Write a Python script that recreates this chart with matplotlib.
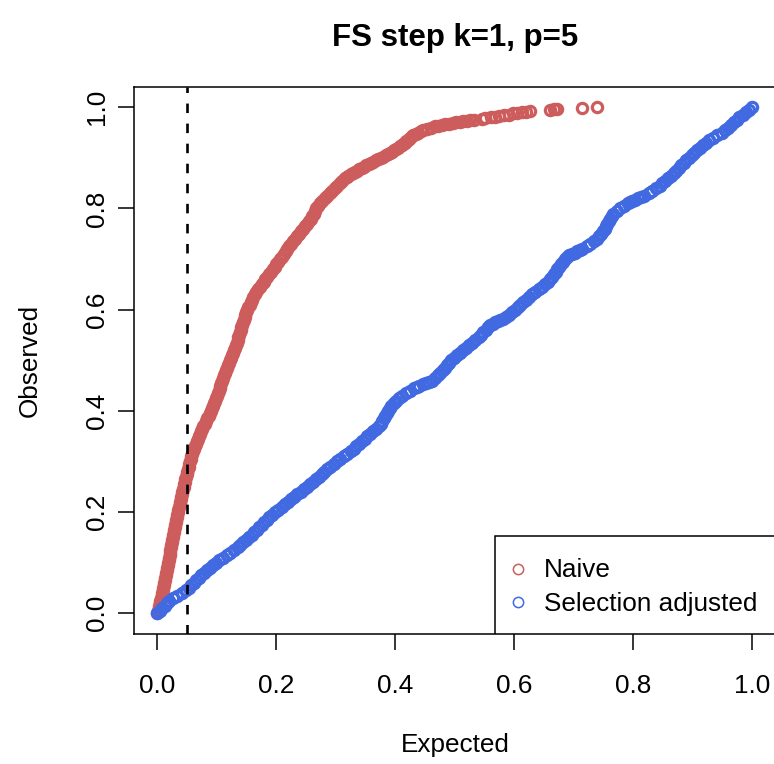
import matplotlib.pyplot as plt
from matplotlib.patches import Rectangle

plt.rcParams['font.family'] = ['Liberation Sans', 'DejaVu Sans']

# values (observed = ECDF level, expected = p-value)
naive_observed = [
    0.000, 0.005, 0.010, 0.015, 0.020, 0.025, 0.030, 0.035, 0.040, 0.045,
    0.050, 0.055, 0.060, 0.065, 0.070, 0.075, 0.080, 0.085, 0.090, 0.095,
    0.100, 0.105, 0.110, 0.115, 0.120, 0.125, 0.130, 0.135, 0.140, 0.145,
    0.150, 0.155, 0.160, 0.165, 0.170, 0.175, 0.180, 0.185, 0.190, 0.195,
    0.200, 0.205, 0.210, 0.215, 0.220, 0.225, 0.230, 0.235, 0.240, 0.245,
    0.250, 0.255, 0.260, 0.265, 0.270, 0.275, 0.280, 0.285, 0.290, 0.295,
    0.300, 0.305, 0.310, 0.315, 0.320, 0.325, 0.330, 0.335, 0.340, 0.345,
    0.350, 0.355, 0.360, 0.365, 0.370, 0.375, 0.380, 0.385, 0.390, 0.395,
    0.400, 0.405, 0.410, 0.415, 0.420, 0.425, 0.430, 0.435, 0.440, 0.445,
    0.450, 0.455, 0.460, 0.465, 0.470, 0.475, 0.480, 0.485, 0.490, 0.495,
    0.500, 0.505, 0.510, 0.515, 0.520, 0.525, 0.530, 0.535, 0.540, 0.545,
    0.550, 0.555, 0.560, 0.565, 0.570, 0.575, 0.580, 0.585, 0.590, 0.595,
    0.600, 0.605, 0.610, 0.615, 0.620, 0.625, 0.630, 0.635, 0.640, 0.645,
    0.650, 0.655, 0.660, 0.665, 0.670, 0.675, 0.680, 0.685, 0.690, 0.695,
    0.700, 0.705, 0.710, 0.715, 0.720, 0.725, 0.730, 0.735, 0.740, 0.745,
    0.750, 0.755, 0.760, 0.765, 0.770, 0.775, 0.780, 0.785, 0.790, 0.795,
    0.800, 0.805, 0.810, 0.815, 0.820, 0.825, 0.830, 0.835, 0.840, 0.845,
    0.850, 0.855, 0.860, 0.865, 0.870, 0.875, 0.880, 0.885, 0.890, 0.895,
    0.900, 0.905, 0.910, 0.915, 0.920, 0.925, 0.930, 0.935, 0.940, 0.945,
    0.950, 0.955, 0.960,
    0.962, 0.963, 0.964, 0.966, 0.967, 0.968, 0.970, 0.971, 0.972, 0.973,
    0.974, 0.975, 0.977, 0.978, 0.980, 0.981, 0.982, 0.984, 0.985, 0.988,
    0.989, 0.990, 0.991, 0.992, 0.995, 0.996, 0.997, 0.999, 1.000,
    # denser readings where the curve turns flat
    0.8625, 0.8675, 0.8725, 0.8775, 0.8825, 0.8875, 0.8925, 0.8975, 0.9025, 0.9075,
    0.9125, 0.9175, 0.9225, 0.9275, 0.9325, 0.9375, 0.9425, 0.9475, 0.9525, 0.9575,
]
naive_expected = [
    0.000, 0.001, 0.002, 0.003, 0.004, 0.005, 0.006, 0.007, 0.008, 0.009,
    0.0095, 0.0105, 0.0115, 0.0124, 0.0132, 0.014, 0.0148, 0.0156, 0.0164, 0.0171,
    0.0179, 0.0187, 0.0195, 0.0203, 0.0211, 0.0218, 0.0226, 0.0234, 0.0242, 0.025,
    0.0257, 0.0265, 0.0274, 0.0282, 0.0291, 0.030, 0.0309, 0.0318, 0.0327, 0.0336,
    0.0344, 0.0353, 0.0362, 0.0371, 0.038, 0.0389, 0.0398, 0.0406, 0.0416, 0.0427,
    0.0438, 0.0448, 0.0459, 0.0469, 0.048, 0.0491, 0.0501, 0.0512, 0.0522, 0.0533,
    0.0544, 0.0556, 0.0571, 0.0586, 0.0601, 0.0616, 0.0632, 0.0647, 0.0662, 0.0677,
    0.0692, 0.0707, 0.0727, 0.0749, 0.0771, 0.0793, 0.0815, 0.0836, 0.0858, 0.088,
    0.0898, 0.0916, 0.0934, 0.0952, 0.097, 0.0985, 0.0999, 0.1014, 0.1028, 0.1043,
    0.1057, 0.1072, 0.1087, 0.1101, 0.1117, 0.1133, 0.115, 0.1167, 0.1183, 0.120,
    0.1217, 0.1233, 0.125, 0.1267, 0.1283, 0.130, 0.1317, 0.1333, 0.1346, 0.1359,
    0.1372, 0.1385, 0.1398, 0.1411, 0.1424, 0.1437, 0.145, 0.1463, 0.1476, 0.149,
    0.1504, 0.1525, 0.1547, 0.1568, 0.1589, 0.161, 0.1632, 0.1659, 0.169, 0.1721,
    0.1753, 0.1784, 0.1815, 0.1846, 0.1878, 0.1908, 0.1939, 0.1969, 0.200, 0.203,
    0.206, 0.2091, 0.2121, 0.2152, 0.2183, 0.2217, 0.225, 0.2283, 0.2317, 0.235,
    0.2383, 0.2415, 0.2447, 0.2479, 0.2511, 0.2543, 0.2575, 0.2604, 0.2626, 0.2648,
    0.267, 0.2691, 0.2725, 0.2767, 0.2808, 0.285, 0.2892, 0.2933, 0.2977, 0.3021,
    0.3065, 0.3109, 0.3153, 0.321, 0.3283, 0.3357, 0.3431, 0.3505, 0.3588, 0.3672,
    0.3756, 0.3834, 0.3906, 0.3979, 0.4051, 0.4109, 0.4157, 0.4204, 0.4252, 0.430,
    0.4385, 0.4469, 0.460,
    0.466, 0.472, 0.478, 0.484, 0.490, 0.496, 0.502, 0.508, 0.514, 0.520,
    0.526, 0.532, 0.545, 0.551, 0.560, 0.567, 0.574, 0.583, 0.590, 0.598,
    0.605, 0.612, 0.619, 0.626, 0.660, 0.666, 0.671, 0.713, 0.738,
    0.3182, 0.3246, 0.332, 0.3394, 0.3468, 0.3547, 0.363, 0.3714, 0.3795, 0.387,
    0.3943, 0.4015, 0.408, 0.4133, 0.418, 0.4228, 0.4276, 0.4343, 0.4427, 0.4535,
]

adjusted_observed = [
    0.000, 0.005, 0.010, 0.015, 0.020, 0.025, 0.030, 0.035, 0.040, 0.045,
    0.050, 0.055, 0.060, 0.065, 0.070, 0.075, 0.080, 0.085, 0.090, 0.095,
    0.100, 0.105, 0.110, 0.115, 0.120, 0.125, 0.130, 0.135, 0.140, 0.145,
    0.150, 0.155, 0.160, 0.165, 0.170, 0.175, 0.180, 0.185, 0.190, 0.195,
    0.200, 0.205, 0.210, 0.215, 0.220, 0.225, 0.230, 0.235, 0.240, 0.245,
    0.250, 0.255, 0.260, 0.265, 0.270, 0.275, 0.280, 0.285, 0.290, 0.295,
    0.300, 0.305, 0.310, 0.315, 0.320, 0.325, 0.330, 0.335, 0.340, 0.345,
    0.350, 0.355, 0.360, 0.365, 0.370, 0.375, 0.380, 0.385, 0.390, 0.395,
    0.400, 0.405, 0.410, 0.415, 0.420, 0.425, 0.430, 0.435, 0.440, 0.445,
    0.450, 0.455, 0.460, 0.465, 0.470, 0.475, 0.480, 0.485, 0.490, 0.495,
    0.500, 0.505, 0.510, 0.515, 0.520, 0.525, 0.530, 0.535, 0.540, 0.545,
    0.550, 0.555, 0.560, 0.565, 0.570, 0.575, 0.580, 0.585, 0.590, 0.595,
    0.600, 0.605, 0.610, 0.615, 0.620, 0.625, 0.630, 0.635, 0.640, 0.645,
    0.650, 0.655, 0.660, 0.665, 0.670, 0.675, 0.680, 0.685, 0.690, 0.695,
    0.700, 0.705, 0.710, 0.715, 0.720, 0.725, 0.730, 0.735, 0.740, 0.745,
    0.750, 0.755, 0.760, 0.765, 0.770, 0.775, 0.780, 0.785, 0.790, 0.795,
    0.800, 0.805, 0.810, 0.815, 0.820, 0.825, 0.830, 0.835, 0.840, 0.845,
    0.850, 0.855, 0.860, 0.865, 0.870, 0.875, 0.880, 0.885, 0.890, 0.895,
    0.900, 0.905, 0.910, 0.915, 0.920, 0.925, 0.930, 0.935, 0.940, 0.945,
    0.950, 0.955, 0.960, 0.965, 0.970, 0.975, 0.980, 0.985, 0.990, 0.995,
    1.000,
    # denser readings on the steeper stretches
    0.4475, 0.4525, 0.4575, 0.5725, 0.5775, 0.5825,
    0.7075, 0.7125, 0.7175, 0.8125, 0.8175, 0.8225,
]
adjusted_expected = [
    0.000, 0.004, 0.008, 0.012, 0.016, 0.020, 0.0266, 0.0336, 0.0406, 0.0476,
    0.0524, 0.0566, 0.0608, 0.0651, 0.0693, 0.0739, 0.0786, 0.0834, 0.0881, 0.0929,
    0.0976, 0.1034, 0.1098, 0.1163, 0.1227, 0.1291, 0.1349, 0.1395, 0.1442, 0.1489,
    0.1535, 0.1582, 0.1627, 0.1669, 0.1712, 0.1754, 0.1797, 0.1839, 0.1882, 0.1931,
    0.1983, 0.2034, 0.2086, 0.2137, 0.2189, 0.224, 0.2296, 0.2351, 0.2406, 0.2461,
    0.2516, 0.2569, 0.2617, 0.2664, 0.2711, 0.2758, 0.2806, 0.2853, 0.290, 0.2959,
    0.3017, 0.3076, 0.3134, 0.3193, 0.3249, 0.3296, 0.3343, 0.3389, 0.3436, 0.3483,
    0.353, 0.3577, 0.3625, 0.3673, 0.3721, 0.3755, 0.378, 0.3805, 0.383, 0.3855,
    0.388, 0.3905, 0.393, 0.3972, 0.4013, 0.4055, 0.4108, 0.4178, 0.4248, 0.4318,
    0.4403, 0.4511, 0.4618, 0.4672, 0.4712, 0.4752, 0.4792, 0.483, 0.4867, 0.4903,
    0.494, 0.498, 0.503, 0.508, 0.513, 0.518, 0.5233, 0.5288, 0.5343, 0.5398,
    0.5442, 0.5479, 0.5516, 0.5553, 0.559, 0.5678, 0.5765, 0.5853, 0.5908, 0.5956,
    0.6004, 0.6052, 0.610, 0.615, 0.620, 0.625, 0.630, 0.6353, 0.6408, 0.6463,
    0.6518, 0.656, 0.6592, 0.6625, 0.6658, 0.669, 0.6723, 0.6754, 0.6786, 0.6817,
    0.6849, 0.688, 0.6968, 0.7055, 0.7143, 0.7212, 0.7276, 0.7341, 0.7393, 0.7424,
    0.7456, 0.7487, 0.7515, 0.7539, 0.7563, 0.7587, 0.7612, 0.7636, 0.766, 0.7721,
    0.7782, 0.7843, 0.7903, 0.798, 0.808, 0.818, 0.8256, 0.8317, 0.8377, 0.8438,
    0.8487, 0.8534, 0.8581, 0.8627, 0.8674, 0.8721, 0.8764, 0.8806, 0.8849, 0.8891,
    0.8934, 0.8976, 0.902, 0.9067, 0.9115, 0.9163, 0.9211, 0.9272, 0.9342, 0.9412,
    0.9482, 0.9539, 0.9587, 0.9636, 0.9684, 0.9732, 0.978, 0.9834, 0.9889, 0.9945,
    1.000,
    0.436, 0.4457, 0.4565, 0.5634, 0.5722, 0.581,
    0.6924, 0.7012, 0.710, 0.794, 0.803, 0.813,
]

ticks = [0.0, 0.2, 0.4, 0.6, 0.8, 1.0]
tick_labels = ['0.0', '0.2', '0.4', '0.6', '0.8', '1.0']
cutoff = 0.05
series_labels = ['Naive', 'Selection adjusted']

red = '#CD5C5C'
blue = '#4169E1'
fs = 18.8
msize = 7.4
medge = 2.3

fig = plt.figure(figsize=(7.74, 7.64), dpi=100)
ax = fig.add_axes([0.1727, 0.1708, 0.8302, 0.7153])

ax.plot(naive_expected, naive_observed, 'o', mfc='none', mec=red, ms=msize, mew=medge)
ax.plot(adjusted_expected, adjusted_observed, 'o', mfc='none', mec=blue, ms=msize, mew=medge)
ax.axvline(cutoff, color='black', lw=1.9, ls=(0, (3.6, 4.0)))

ax.set_xlim(-0.04, 1.04)
ax.set_ylim(-0.04, 1.04)
ax.set_xticks(ticks)
ax.set_xticklabels(tick_labels)
ax.set_yticks(ticks)
ax.set_yticklabels(tick_labels, rotation=90, va='center')
ax.tick_params(axis='both', length=11.2, width=1.1, labelsize=fs, color='black')
ax.tick_params(axis='x', pad=18)
ax.tick_params(axis='y', pad=6.5)
for s in ax.spines.values():
    s.set_linewidth(1.1)

ax.set_title('FS step k=1, p=5', fontsize=22.5, fontweight='bold', y=1.0897, pad=0, va='center')
ax.set_xlabel('Expected', fontsize=fs, va='center')
ax.xaxis.set_label_coords(0.5, -0.204)
ax.set_ylabel('Observed', fontsize=fs, va='center')
ax.yaxis.set_label_coords(-0.1614, 0.5)

# legend box, bottom right corner like R's legend()
ax.add_patch(Rectangle((0.5623, 0.0), 0.4377, 0.1784, transform=ax.transAxes,
                       facecolor='white', edgecolor='black', lw=1.1, zorder=5))
for lab, col, yy, yb in [(series_labels[0], red, 0.1175, 0.1028),
                         (series_labels[1], blue, 0.0582, 0.0417)]:
    ax.plot([0.5985], [yy], 'o', mfc='none', mec=col, ms=7.4, mew=1.1,
            transform=ax.transAxes, zorder=6)
    ax.text(0.6386, yb, lab, fontsize=fs, va='baseline', ha='left',
            transform=ax.transAxes, zorder=6)

fig.savefig('out.png', dpi=100)
